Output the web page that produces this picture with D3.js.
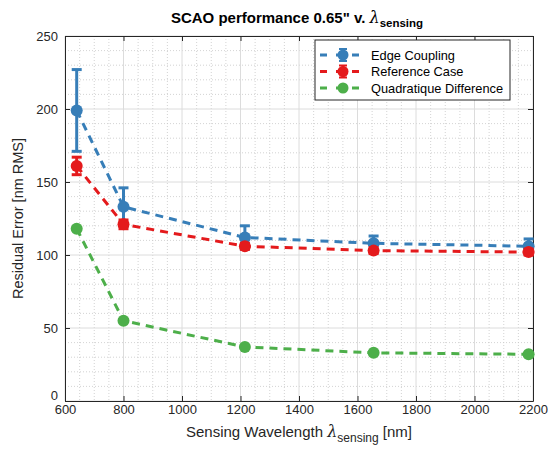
<!DOCTYPE html>
<html><head><meta charset="utf-8">
<script src="https://cdn.jsdelivr.net/npm/d3@7"></script>
<style>body{margin:0;background:#fff;}svg{display:block;font-family:"Liberation Sans",Arial,sans-serif;}</style>
</head><body><svg id="c" width="548" height="453"></svg>
<script>
const wavelengths = [640, 800, 1215, 1655, 2185];
const edgeCoupling = [199, 133, 112, 108, 106];
const edgeErr = [28, 13, 8, 5, 5];
const referenceCase = [161, 121, 106, 103, 102];
const refErr = [6, 3, 2, 2, 2];
const quadDiff = [118, 55, 37, 33, 32];
const xTicks = [600, 800, 1000, 1200, 1400, 1600, 1800, 2000, 2200];
const yTicks = [0, 50, 100, 150, 200, 250];
const seriesNames = ["Edge Coupling", "Reference Case", "Quadratique Difference"];
const colors = ["#377eb8", "#e41a1c", "#4daf4a"];

const series = [
  {name: seriesNames[0], vals: edgeCoupling, err: edgeErr, color: colors[0]},
  {name: seriesNames[1], vals: referenceCase, err: refErr, color: colors[1]},
  {name: seriesNames[2], vals: quadDiff, err: null, color: colors[2]}
];

const svg = d3.select("#c");
const L = 65, R = 533, T = 36, B = 401;
const x = d3.scaleLinear().domain([600, 2200]).range([L, R]);
const y = d3.scaleLinear().domain([0, 250]).range([B, T]);
const axisCol = "#262626";

// minor grid
const g = svg.append("g");
d3.range(600, 2201, 50).filter(v => v % 200 !== 0).forEach(v => {
  g.append("line").attr("x1", x(v)).attr("x2", x(v)).attr("y1", T).attr("y2", B)
   .attr("stroke", "#c8c8c8").attr("stroke-width", 0.8).attr("stroke-dasharray", "1,2");
});
d3.range(0, 251, 10).filter(v => v % 50 !== 0).forEach(v => {
  g.append("line").attr("x1", L).attr("x2", R).attr("y1", y(v)).attr("y2", y(v))
   .attr("stroke", "#c8c8c8").attr("stroke-width", 0.8).attr("stroke-dasharray", "1,2");
});
// major grid
xTicks.forEach(v => g.append("line").attr("x1", x(v)).attr("x2", x(v)).attr("y1", T).attr("y2", B).attr("stroke", "#dcdcdc").attr("stroke-width", 1));
yTicks.forEach(v => g.append("line").attr("x1", L).attr("x2", R).attr("y1", y(v)).attr("y2", y(v)).attr("stroke", "#dcdcdc").attr("stroke-width", 1));

// axes
const fmt = d3.format("d");
const xa = svg.append("g").attr("transform", `translate(0,${B})`)
  .call(d3.axisBottom(x).tickValues(xTicks).tickFormat(fmt).tickSizeInner(-5).tickSizeOuter(0).tickPadding(4));
const ya = svg.append("g").attr("transform", `translate(${L},0)`)
  .call(d3.axisLeft(y).tickValues(yTicks).tickFormat(fmt).tickSizeInner(-5).tickSizeOuter(0).tickPadding(7));
const xt = svg.append("g").attr("transform", `translate(0,${T})`)
  .call(d3.axisTop(x).tickValues(xTicks).tickSizeInner(-5).tickSizeOuter(0).tickFormat(""));
const yr = svg.append("g").attr("transform", `translate(${R},0)`)
  .call(d3.axisRight(y).tickValues(yTicks).tickSizeInner(-5).tickSizeOuter(0).tickFormat(""));
[xa, ya, xt, yr].forEach(a => {
  a.select(".domain").attr("stroke", axisCol).attr("stroke-width", 1);
  a.selectAll(".tick line").attr("stroke", axisCol);
  a.selectAll("text").attr("fill", axisCol).style("font-size", "13px").style("font-family", "Liberation Sans, Arial, sans-serif");
});
xa.selectAll("text").attr("dy", "0.71em");
ya.selectAll("text").filter(d => d === 0).attr("dy", "-0.15em");

// series
const line = d3.line().x(d => x(d[0])).y(d => y(d[1]));
series.forEach(s => {
  const pts = wavelengths.map((w, i) => [w, s.vals[i]]);
  svg.append("path").attr("d", line(pts)).attr("fill", "none").attr("stroke", s.color)
    .attr("stroke-width", 3).attr("stroke-dasharray", "8,6");
  if (s.err) {
    wavelengths.forEach((w, i) => {
      const cx = x(w), y1 = y(s.vals[i] + s.err[i]), y2 = y(s.vals[i] - s.err[i]);
      svg.append("line").attr("x1", cx).attr("x2", cx).attr("y1", y1).attr("y2", y2).attr("stroke", s.color).attr("stroke-width", 3);
      [y1, y2].forEach(yy => svg.append("line").attr("x1", cx - 5).attr("x2", cx + 5).attr("y1", yy).attr("y2", yy).attr("stroke", s.color).attr("stroke-width", 3));
    });
  }
  svg.selectAll(null).data(pts).enter().append("circle")
    .attr("cx", d => x(d[0])).attr("cy", d => y(d[1])).attr("r", 6).attr("fill", s.color);
});

// title
const title = svg.append("text").attr("x", 297).attr("y", 23).attr("text-anchor", "middle")
  .attr("fill", "#000").style("font-size", "15px").style("font-weight", "bold");
title.append("tspan").text('SCAO performance 0.65" v. ');
title.append("tspan").style("font-family", "DejaVu Serif, serif").style("font-style", "italic").style("font-weight", "normal").style("font-size", "16px").text("λ");
title.append("tspan").attr("dy", 4).style("font-size", "11.5px").text("sensing");

// axis labels
const xl = svg.append("text").attr("x", 299).attr("y", 437).attr("text-anchor", "middle").attr("fill", axisCol).style("font-size", "15px");
xl.append("tspan").text("Sensing Wavelength ");
xl.append("tspan").style("font-family", "DejaVu Serif, serif").style("font-style", "italic").style("font-size", "16px").text("λ");
xl.append("tspan").attr("dy", 5).style("font-size", "12px").text("sensing");
xl.append("tspan").attr("dy", -5).text(" [nm]");

svg.append("text").attr("transform", `translate(23,${(T + B) / 2}) rotate(-90)`).attr("text-anchor", "middle")
  .attr("fill", axisCol).style("font-size", "14.5px").text("Residual Error [nm RMS]");

// legend
const lg = svg.append("g");
lg.append("rect").attr("x", 315).attr("y", 40).attr("width", 195).attr("height", 60).attr("fill", "#fff").attr("stroke", axisCol).attr("stroke-width", 1);
series.forEach((s, i) => {
  const yy = 55 + i * 16.5;
  lg.append("line").attr("x1", 320).attr("x2", 366).attr("y1", yy).attr("y2", yy).attr("stroke", s.color).attr("stroke-width", 3).attr("stroke-dasharray", "7,9");
  if (s.err) {
    lg.append("line").attr("x1", 343).attr("x2", 343).attr("y1", yy - 6).attr("y2", yy + 6).attr("stroke", s.color).attr("stroke-width", 3);
    [yy - 6, yy + 6].forEach(c => lg.append("line").attr("x1", 339).attr("x2", 347).attr("y1", c).attr("y2", c).attr("stroke", s.color).attr("stroke-width", 2));
  }
  lg.append("circle").attr("cx", 343).attr("cy", yy).attr("r", 5.5).attr("fill", s.color);
  lg.append("text").attr("x", 371).attr("y", yy + 4.5).attr("fill", "#000").style("font-size", "12.8px").text(s.name);
});
</script></body></html>
